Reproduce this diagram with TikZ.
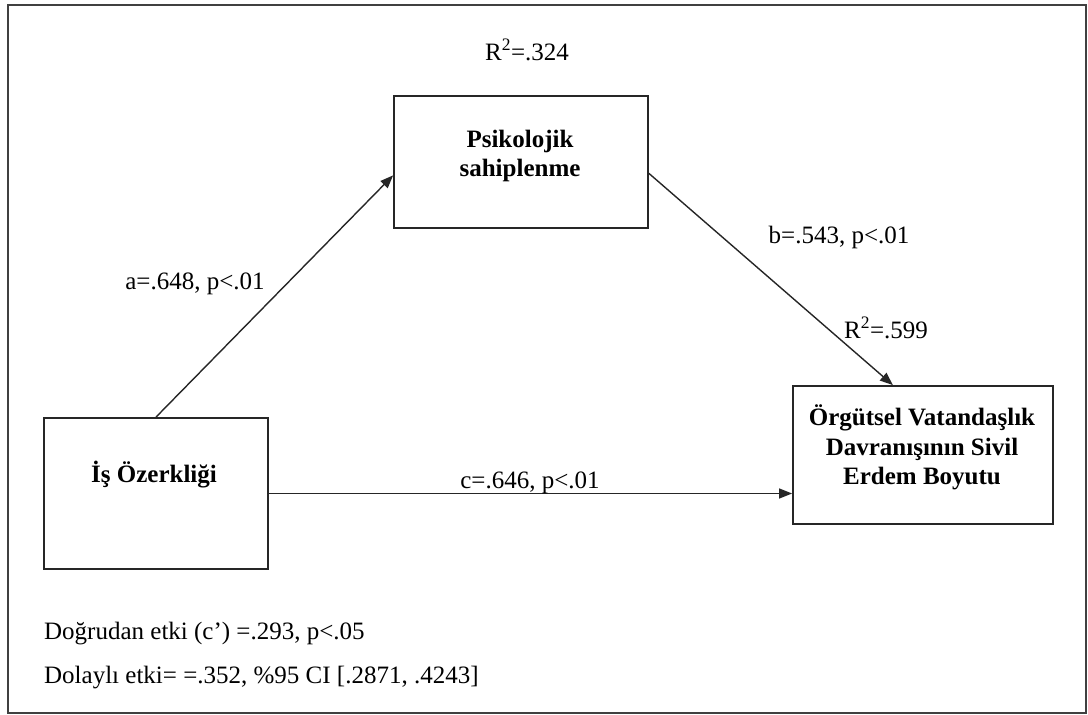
\documentclass[tikz,border=0pt]{standalone}
\usepackage{fontspec}
\setmainfont{Liberation Serif}
\usetikzlibrary{arrows.meta,calc}
\begin{document}
\begin{tikzpicture}[x=1pt,y=-1pt,
  frame/.style={draw=black!75,line width=1.8pt},
  box/.style={draw=black!85,line width=1.8pt,inner sep=0pt},
  lbl/.style={inner sep=0pt,anchor=base,font=\fontsize{25}{29.5}\selectfont},
  blbl/.style={lbl,font=\fontsize{25}{29.5}\selectfont\bfseries},
  conn/.style={draw=black!85,line width=1.4pt,-{Triangle[length=13pt,width=10pt]}}]
\useasboundingbox (0,0) rectangle (1088,715);
\draw[frame] (8,5) rectangle (1086,713);
% boxes
\node[box,minimum width=254pt,minimum height=132pt] (psy) at (521,162) {};
\node[box,minimum width=224pt,minimum height=151pt] (iso) at (156,493.5) {};
\node[box,minimum width=260pt,minimum height=138pt] (org) at (923,455) {};
% box texts
\node[blbl] (psy1) at (520,147) {Psikolojik};
\node[blbl] (psy2) at (520,176) {sahiplenme};
\node[blbl] (iso1) at (154,482) {İş Özerkliği};
\node[blbl] (org1) at (922,425) {Örgütsel Vatandaşlık};
\node[blbl] (org2) at (922,455) {Davranışının Sivil};
\node[blbl] (org3) at (922,484) {Erdem Boyutu};
% connectors
\draw[conn] (iso.north) -- ($(psy.north west)!0.6!(psy.south west)$);
\draw[conn] ($(psy.north east)!0.585!(psy.south east)$) -- ($(org.north west)!0.385!(org.north east)$);
\draw[conn] (iso.east) -- (org.west |- iso.east);
% labels
\node[lbl] (r1) at (527,60) {R\textsuperscript{2}=.324};
\node[lbl] (la) at (195,289) {a=.648, p<.01};
\node[lbl] (lb) at (839,243) {b=.543, p<.01};
\node[lbl] (r2) at (886,338) {R\textsuperscript{2}=.599};
\node[lbl] (lc) at (530,488) {c=.646, p<.01};
\node[lbl,anchor=base west] (d1) at (44,639) {Doğrudan etki (c\textquoteright) =.293, p<.05};
\node[lbl,anchor=base west] (d2) at (44,683) {Dolaylı etki= =.352, \%95 CI [.2871, .4243]};
\end{tikzpicture}
\end{document}
